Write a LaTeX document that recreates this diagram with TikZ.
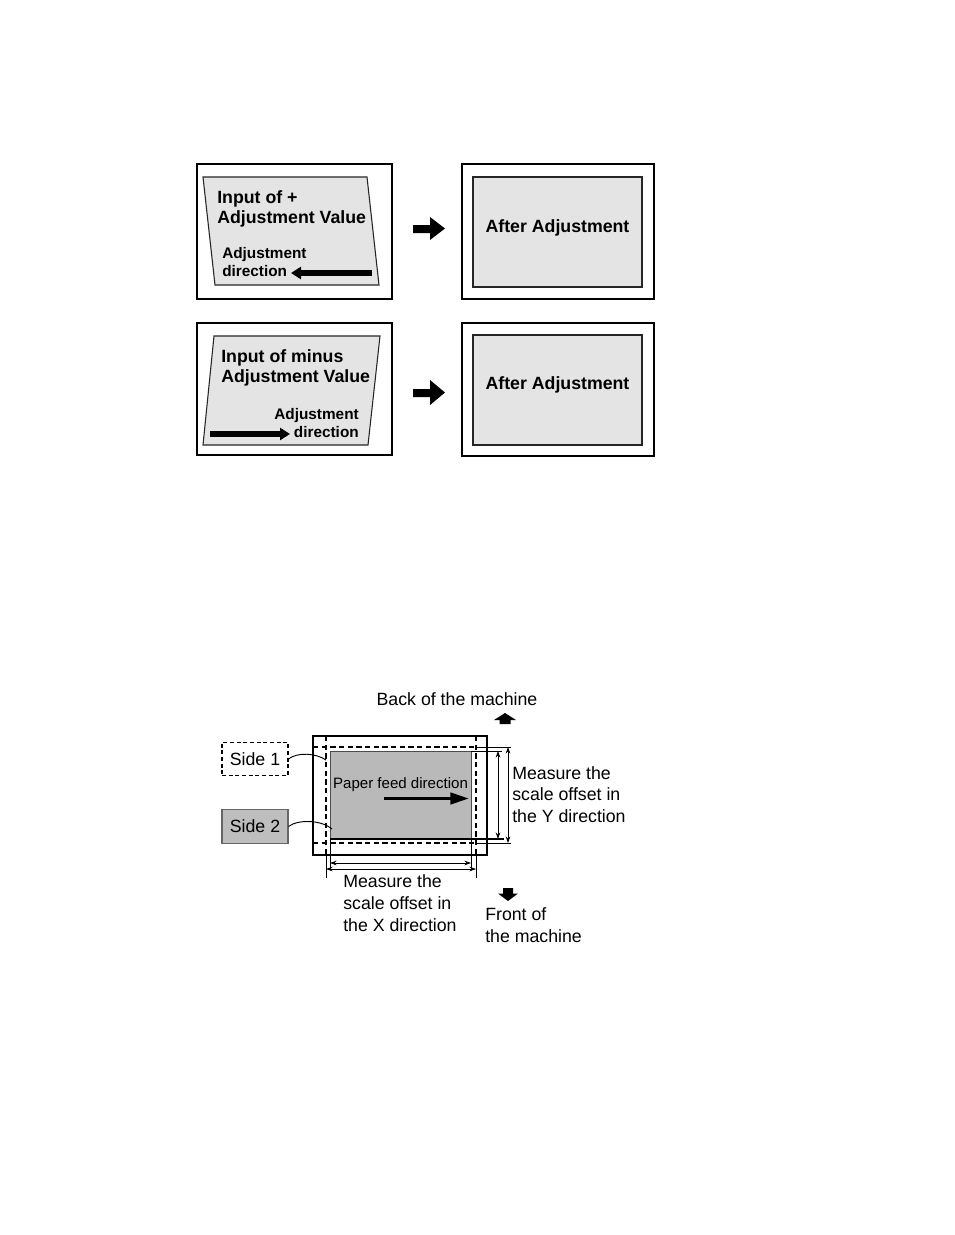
\documentclass[tikz,border=0pt]{standalone}
\usepackage{fontspec}
\setmainfont{Liberation Sans}
\usetikzlibrary{arrows.meta}
\definecolor{panelgray}{HTML}{E4E4E4}
\definecolor{papergray}{HTML}{B9B9B9}
\definecolor{sidegray}{HTML}{BEBEBE}
\begin{document}
\begin{tikzpicture}[x=0.75pt,y=-0.75pt,
  frame/.style={draw=black, line width=2.2pt},
  panel/.style={draw=black!85, line width=0.8pt, fill=panelgray},
  boldbig/.style={font=\fontsize{13.3}{16}\selectfont\bfseries, inner sep=0pt},
  boldsmall/.style={font=\fontsize{11.5}{13.5}\selectfont\bfseries, inner sep=0pt},
  plain/.style={font=\fontsize{13.3}{16.3}\selectfont, inner sep=0pt},
  fatarrow/.style={line width=3.8pt, -{Triangle[length=7.5pt,width=9pt]}},
  feedarrow/.style={line width=2.6pt, -{Triangle[length=14pt,width=8.5pt]}},
  blockarrow/.style={fill=black, draw=none},
  dashline/.style={dash pattern=on 4pt off 2.5pt, line width=0.8pt},
  extline/.style={line width=0.5pt},
  dimline/.style={line width=0.6pt, {Stealth[length=5pt,width=3.5pt]}-{Stealth[length=5pt,width=3.5pt]}},
  sidebox/.style={minimum width=49.5pt, minimum height=25pt, inner sep=0pt, line width=0.8pt,
     font=\fontsize{13.3}{16}\selectfont},
  leader/.style={line width=0.7pt},
]
\useasboundingbox (0,0) rectangle (954,1235);

% ---------- Row 1 ----------
\draw[frame] (197,164) rectangle (392,299);
\draw[panel] (203,177) -- (367,177) -- (379,285) -- (215,285) -- cycle;
\node[boldbig, anchor=base west] (t1a) at (217,203) {Input of +};
\node[boldbig, anchor=base west] (t1b) at (217,223) {Adjustment Value};
\node[boldsmall, anchor=base west] (t1c) at (222,258) {Adjustment};
\node[boldsmall, anchor=base west] (t1d) at (222,276) {direction};
\coordinate (a1s) at (372,273);
\coordinate (a1e) at (291,273);
\draw[fatarrow] (a1s) -- (a1e);

\fill[blockarrow] (413,225) -- (430,225) -- (430,217) -- (445,228.5) -- (430,240) -- (430,233) -- (413,233) -- cycle;

\draw[frame] (462,164) rectangle (654,299);
\draw[panel] (473,177) rectangle (642,287);
\node[boldbig, anchor=base] (t2) at (557.5,232) {After Adjustment};

% ---------- Row 2 ----------
\draw[frame] (197,323) rectangle (392,455);
\draw[panel] (214,336) -- (380,336) -- (368,445) -- (203,445) -- cycle;
\node[boldbig, anchor=base west] (t3a) at (221,362) {Input of minus};
\node[boldbig, anchor=base west] (t3b) at (221,382) {Adjustment Value};
\node[boldsmall, anchor=base east] (t3c) at (359,419) {Adjustment};
\node[boldsmall, anchor=base east] (t3d) at (359,437) {direction};
\coordinate (a3s) at (210,434);
\coordinate (a3e) at (290,434);
\draw[fatarrow] (a3s) -- (a3e);

\fill[blockarrow] (413,389) -- (430,389) -- (430,380) -- (445,392.5) -- (430,405) -- (430,397) -- (413,397) -- cycle;

\draw[frame] (462,323) rectangle (654,456);
\draw[panel] (473,335) rectangle (642,445);
\node[boldbig, anchor=base] (t4) at (557.5,389) {After Adjustment};

% ---------- Lower diagram ----------
\node[plain, anchor=base] (back) at (457,705) {Back of the machine};
\fill[blockarrow] (505,713) -- (516,720) -- (510.5,720) -- (510.5,724) -- (499.5,724) -- (499.5,720) -- (494,720) -- cycle;

% outer sheet
\draw[line width=2pt] (313,736) rectangle (487,855);

% paper image
\filldraw[fill=papergray, draw=black!70, line width=0.6pt] (330,751) rectangle (471,839);
\draw[line width=2.2pt] (330,839) -- (471,839);

% dashed lines
\draw[dashline] (326,736) -- (326,855);
\draw[dashline] (476,736) -- (476,855);
\draw[dashline] (313,747) -- (476,747);
\draw[dashline] (313,843) -- (476,843);
\draw[extline] (326,855) -- (326,878);
\draw[extline] (476,855) -- (476,878);
\draw[extline] (476,747) -- (511,747);
\draw[extline] (476,843) -- (511,843);
\draw[extline] (471,751) -- (502,751);
\draw[line width=1.1pt] (471,839) -- (504,839);
\draw[extline] (330,839) -- (330,868);
\draw[extline] (471,839) -- (471,868);

% dimension arrows
\coordinate (yi1) at (498,751); \coordinate (yi2) at (498,839);
\coordinate (yo1) at (508,747); \coordinate (yo2) at (508,843);
\coordinate (xi1) at (330,863); \coordinate (xi2) at (471,863);
\coordinate (xo1) at (326,869); \coordinate (xo2) at (476,869);
\draw[dimline] (yi1) -- (yi2);
\draw[dimline] (yo1) -- (yo2);
\draw[dimline] (xi1) -- (xi2);
\draw[dimline] (xo1) -- (xo2);

% paper feed
\node[font=\fontsize{11.3}{13}\selectfont, anchor=base, inner sep=0pt] (pfd) at (400.5,788) {Paper feed direction};
\coordinate (pf1) at (384,798.5);
\coordinate (pf2) at (469,798.5);
\draw[feedarrow] (pf1) -- (pf2);

% side labels
\node[sidebox, draw, dash pattern=on 3pt off 2pt] (s1) at (255,759) {Side 1};
\node[sidebox, draw=black!60, fill=sidegray] (s2) at (255,826.5) {Side 2};
\coordinate (s1t) at (326,760);
\coordinate (s2t) at (332,829);
\draw[leader] (s1.east) .. controls (297,752) and (316,753) .. (s1t);
\draw[leader] (s2.east) .. controls (298,819) and (322,820) .. (s2t);

% measure texts
\node[plain, anchor=base west] (my1) at (512,779) {Measure the};
\node[plain, anchor=base west] (my2) at (512,800.7) {scale offset in};
\node[plain, anchor=base west] (my3) at (512,822.5) {the Y direction};

\node[plain, anchor=base west] (mx1) at (343,887) {Measure the};
\node[plain, anchor=base west] (mx2) at (343,909) {scale offset in};
\node[plain, anchor=base west] (mx3) at (343,931.5) {the X direction};

\fill[blockarrow] (503,888) -- (513,888) -- (513,893.5) -- (518,893.5) -- (508,901) -- (498,893.5) -- (503,893.5) -- cycle;
\node[plain, anchor=base west] (fr1) at (485,920) {Front of};
\node[plain, anchor=base west] (fr2) at (485,942) {the machine};
\end{tikzpicture}
\end{document}
